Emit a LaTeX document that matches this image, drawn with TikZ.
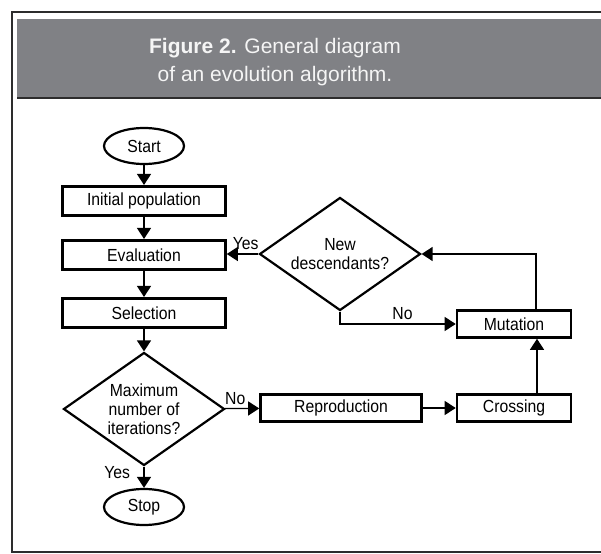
\documentclass[tikz,border=0pt]{standalone}
\usepackage{fontspec}
\setmainfont{Liberation Sans}
\newfontfamily\narrowsans{Liberation Sans}[FakeStretch=0.9]
\usetikzlibrary{arrows.meta, positioning, shapes.geometric}
\definecolor{bandgray}{RGB}{128, 129, 133}
\definecolor{framegray}{RGB}{45, 45, 45}
\definecolor{titlewhite}{RGB}{245, 245, 245}

\begin{document}
\begin{tikzpicture}[x=1pt, y=-1pt,
        font=\narrowsans\fontsize{17.5}{19}\selectfont,
        box/.style={rectangle, draw, line width=2.6pt, inner sep=0pt,
                    minimum width=163pt, minimum height=29.5pt},
        term/.style={ellipse, draw, line width=2.2pt, inner sep=0pt,
                     minimum width=80pt, minimum height=36pt},
        decide/.style={diamond, draw, line width=2.2pt, inner sep=0pt, align=center,
                       aspect=1.42, minimum width=161pt, minimum height=113pt},
        flow/.style={-{Triangle[length=11pt, width=14pt]}, line width=1.3pt},
        lbl/.style={inner sep=3.5pt}]
        \useasboundingbox (0,0) rectangle (601,553);
        % frame and title band
        \draw[framegray, line width=2pt] (12,12) rectangle (620,552);
        \fill[bandgray] (17,19) rectangle (620,97);
        \draw[framegray, line width=2.5pt] (17,98) -- (620,98);
        \node[titlewhite, align=center, font=\fontsize{21}{28}\selectfont] (title) at (275,62)
            {\textbf{Figure 2.} General diagram\\of an evolution algorithm.};
        % main column
        \node[term] (start) at (144,146) {Start};
        \node[box] (init) at (144,201) {Initial population};
        \node[box] (eval) at (144,255) {Evaluation};
        \node[box] (sel) at (144,313) {Selection};
        \node[decide] (maxit) at (144,409) {Maximum\\number of\\iterations?};
        \node[term] (stop) at (144,507) {Stop};
        % loop on the right
        \node[box, minimum width=161pt, minimum height=27pt] (repro) at (341,408) {Reproduction};
        \node[box, minimum width=114pt, minimum height=27pt] (cross) at (514,408) {Crossing};
        \node[box, minimum width=114pt, minimum height=27pt] (mut) at (514,324) {Mutation};
        \node[decide] (new) at (340,254) {New\\descendants?};
        % connectors
        \draw[flow] (start) -- (init);
        \draw[flow] (init) -- (eval);
        \draw[flow] (eval) -- (sel);
        \draw[flow] (sel) -- (maxit);
        \draw[flow] (maxit) -- node[left=10pt, pos=0.3] {Yes} (stop);
        \draw[flow] (maxit) -- node[lbl, above, pos=0.3] {No} (repro);
        \draw[flow] (repro) -- (cross);
        \draw[flow] ([xshift=23pt]cross.north) -- ([xshift=23pt]mut.south);
        \draw[flow] ([xshift=22pt]mut.north) |- (new.east);
        \draw[flow] (new.south) |- node[lbl, above, pos=0.77] {No} (mut.west);
        \draw[flow] (new.west) -- node[lbl, above, pos=0.4] {Yes} (new.west -| eval.east);
    \end{tikzpicture}
\end{document}
